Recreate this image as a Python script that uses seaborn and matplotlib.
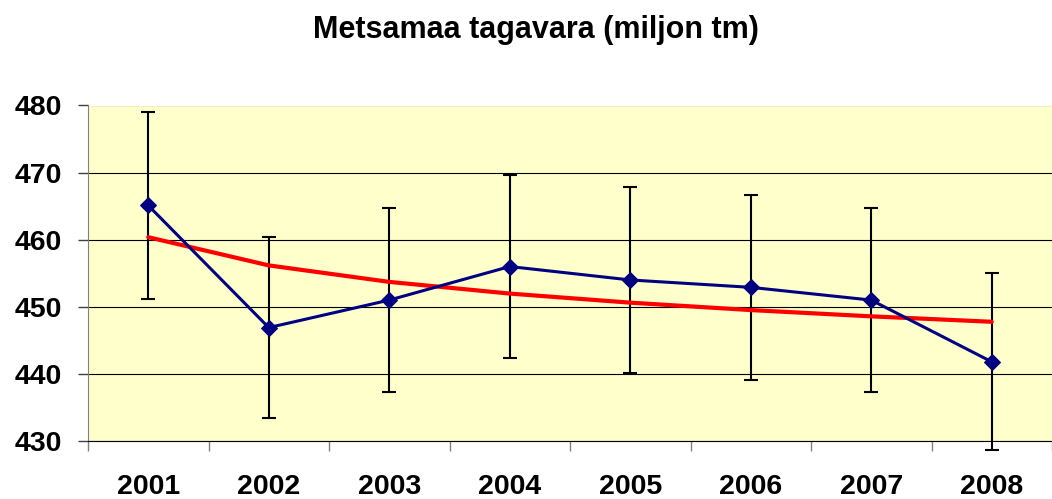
import seaborn as sns
import matplotlib.pyplot as plt
import pandas as pd
import numpy as np

# Dados
aastad = ['2001', '2002', '2003', '2004', '2005', '2006', '2007', '2008']
tagavara = [465.1, 446.9, 451.0, 456.0, 454.0, 452.9, 451.0, 441.8]
viga = [14.0, 13.5, 13.7, 13.7, 13.8, 13.8, 13.7, 13.2]

df = pd.DataFrame({'x': np.arange(len(aastad)), 'tagavara': tagavara, 'viga': viga})

# logaritmiline trend (nagu Exceli trendijoon)
b, a = np.polyfit(np.log(df['x'] + 1), df['tagavara'], 1)
df['trend'] = a + b * np.log(df['x'] + 1)

sns.set_style('white')
plt.rcParams['font.family'] = ['Liberation Sans', 'DejaVu Sans']
plt.rcParams['text.color'] = 'black'
plt.rcParams['xtick.color'] = 'black'
plt.rcParams['ytick.color'] = 'black'

fig = plt.figure(figsize=(10.52, 4.99), dpi=100)
ax = fig.add_axes([88 / 1052, 58 / 499, 964 / 1052, 335.5 / 499])
ax.set_facecolor('#FFFFCC')

ax.errorbar(df['x'], df['tagavara'], yerr=df['viga'], fmt='none', ecolor='black',
            elinewidth=1.5, capsize=4.7, capthick=1.5, zorder=2, clip_on=False)
sns.lineplot(x='x', y='trend', data=df, color='#FF0000', linewidth=3, ax=ax, zorder=3)
sns.lineplot(x='x', y='tagavara', data=df, color='#000080', linewidth=2.2, marker='D',
             markersize=8.5, markeredgecolor='#000080', ax=ax, zorder=4)

ax.set_ylim(430, 480)
ax.set_xlim(-0.5, -0.5 + 964 / 121.9)
ax.set_yticks(range(430, 481, 10))
ax.set_xticks(df['x'])
ax.set_xticklabels(aastad)
ax.set_xticks(np.arange(-0.5, 8, 1), minor=True)
ax.grid(axis='y', color='black', linewidth=0.8)
ax.set_axisbelow(True)
ax.tick_params(axis='x', which='major', bottom=True, length=0, pad=24, labelsize=20.5,
               labelcolor='black')
ax.tick_params(axis='x', which='minor', bottom=True, length=7, width=1, color='#808080',
               direction='out')
ax.tick_params(axis='y', left=True, length=7, width=1, color='#404040', direction='out',
               pad=12, labelsize=20.5, labelcolor='black')
for lbl in ax.get_xticklabels() + ax.get_yticklabels():
    lbl.set_fontweight('bold')

for s in ['top', 'right']:
    ax.spines[s].set_visible(False)
ax.spines['left'].set_color('#808080')
ax.spines['bottom'].set_color('black')
ax.set_xlabel('')
ax.set_ylabel('')
if ax.get_legend():
    ax.get_legend().remove()

fig.text(536 / 1052, 1 - 30 / 499, 'Metsamaa tagavara (miljon tm)', ha='center', va='center',
         fontsize=22, fontweight='bold', color='black')

plt.savefig('out.png', dpi=100)
